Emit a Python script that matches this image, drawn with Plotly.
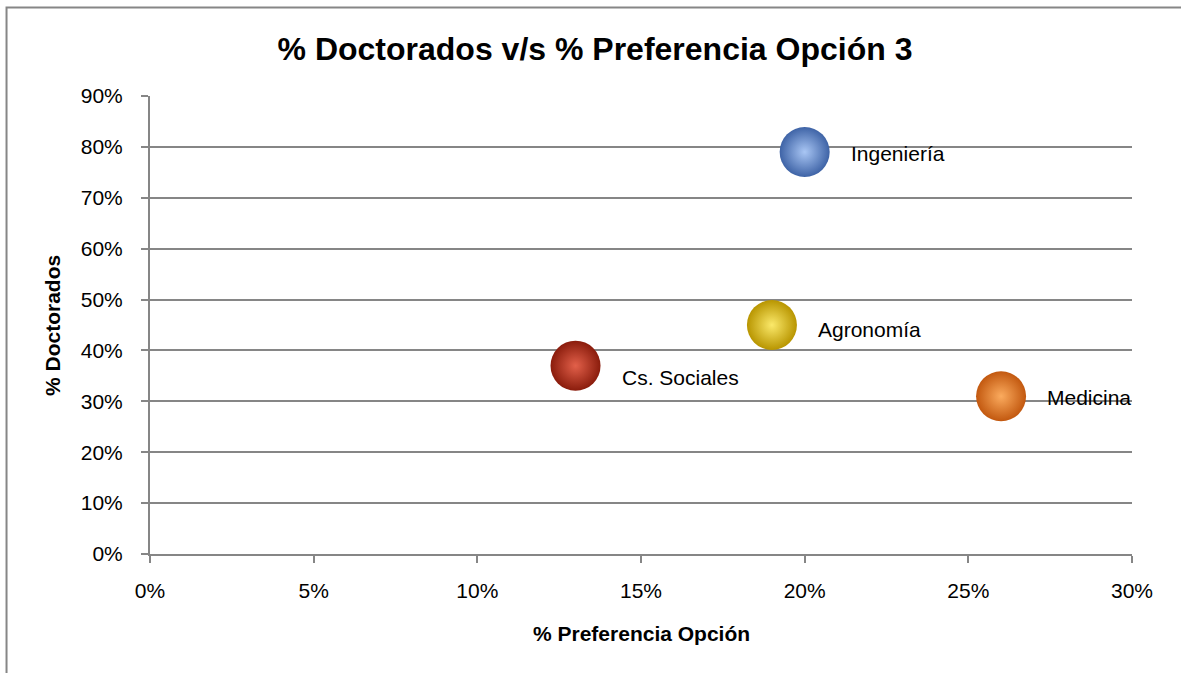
import plotly.graph_objects as go

# data
carreras = ["Ingeniería", "Agronomía", "Cs. Sociales", "Medicina"]
pct_preferencia = [0.20, 0.19, 0.13, 0.26]
pct_doctorados = [0.79, 0.45, 0.37, 0.31]

# sphere colours: highlight (centre) and shaded edge
centro = ["#a9c6f4", "#fbe96a", "#e2604a", "#fbab5e"]
borde = ["#3e63a6", "#b89500", "#8a1c0c", "#c2580f"]
label_dy = [-2, -4, -12, -1]

GRID = "#868686"
FONT = "Liberation Sans, Arial, sans-serif"

fig = go.Figure()

for i, name in enumerate(carreras):
    fig.add_trace(go.Scatter(
        x=[pct_preferencia[i]],
        y=[pct_doctorados[i]],
        mode="markers",
        name=name,
        marker=dict(
            size=50,
            color=borde[i],
            gradient=dict(type="radial", color=centro[i]),
            line=dict(width=0),
        ),
        hovertemplate=f"{name}<br>%{{x:.0%}}, %{{y:.0%}}<extra></extra>",
    ))
    fig.add_annotation(
        x=pct_preferencia[i], y=pct_doctorados[i],
        text=name, showarrow=False,
        xanchor="left", xshift=44, yshift=label_dy[i],
        font=dict(family=FONT, size=21, color="black"),
    )

# axis titles
fig.add_annotation(
    x=0.5, y=-0.1725, xref="paper", yref="paper",
    text="<b>% Preferencia Opción</b>", showarrow=False,
    xanchor="center", yanchor="middle",
    font=dict(family=FONT, size=21, color="black"),
)
fig.add_annotation(
    x=-0.0998, y=0.5, xref="paper", yref="paper",
    text="<b>% Doctorados</b>", showarrow=False, textangle=-90,
    xanchor="center", yanchor="middle",
    font=dict(family=FONT, size=21, color="black"),
)

# outer chart frame (runs off the right/bottom edge in the reference)
fig.add_shape(type="rect", xref="paper", yref="paper",
              x0=-0.1461, y0=-0.6, x1=1.2, y1=1.1932,
              line=dict(color=GRID, width=2), layer="below")

fig.update_layout(
    width=1181, height=673,
    margin=dict(l=150, r=49, t=96, b=119),
    paper_bgcolor="white", plot_bgcolor="white",
    showlegend=False,
    font=dict(family=FONT, color="black"),
    title=dict(
        text="<b>% Doctorados v/s % Preferencia Opción 3</b>",
        x=595 / 1181, xanchor="center",
        y=1 - 49 / 673, yanchor="middle", yref="container",
        font=dict(family=FONT, size=32, color="black"),
    ),
)

fig.update_xaxes(
    range=[0, 0.30], tickvals=[0, 0.05, 0.10, 0.15, 0.20, 0.25, 0.30],
    tickformat=".0%", showgrid=False, zeroline=False,
    showline=True, linecolor=GRID, linewidth=2,
    ticks="outside", ticklen=7, tickcolor=GRID, tickwidth=2,
    ticklabelstandoff=10,
    tickfont=dict(family=FONT, size=21, color="black"),
)
fig.update_yaxes(
    range=[0, 0.90], dtick=0.10, tickformat=".0%",
    showgrid=True, gridcolor=GRID, gridwidth=1.5, zeroline=False,
    showline=True, linecolor=GRID, linewidth=2,
    ticks="outside", ticklen=7, tickcolor=GRID, tickwidth=2,
    ticklabelstandoff=14,
    tickfont=dict(family=FONT, size=21, color="black"),
)

# drop the default page margin so the figure sits at the window's corner
fig.write_html(
    "out.html",
    config={"displayModeBar": False},
    post_script="document.body.style.margin='0';document.body.style.overflow='hidden';",
)
